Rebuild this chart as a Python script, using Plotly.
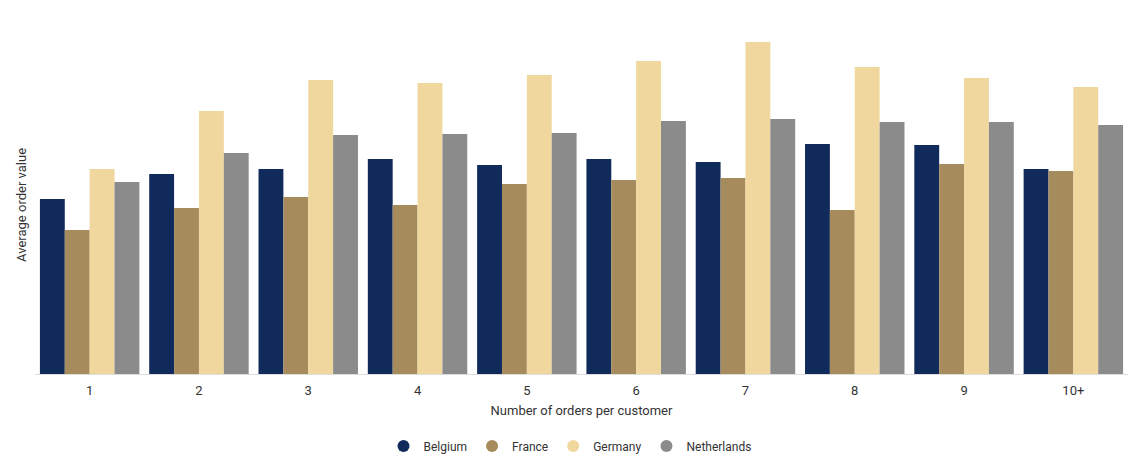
import plotly.graph_objects as go

categories = ["1", "2", "3", "4", "5", "6", "7", "8", "9", "10+"]
belgium = [175, 200, 205, 215, 209, 215, 212, 230, 229, 205]
france = [144, 166, 177, 169, 190, 194, 196, 164, 210, 203]
germany = [205, 263, 294, 291, 299, 313, 332, 307, 296, 287]
netherlands = [192, 221, 239, 240, 241, 253, 255, 252, 252, 249]

series = [
    ("Belgium", belgium, "#112a5c"),
    ("France", france, "#a68b5c"),
    ("Germany", germany, "#efd79d"),
    ("Netherlands", netherlands, "#8b8b8c"),
]

fig = go.Figure()
for name, vals, color in series:
    fig.add_trace(go.Bar(x=categories, y=vals, name=name, marker_color=color,
                         marker_line_width=0, showlegend=False))
# round legend markers
for name, vals, color in series:
    fig.add_trace(go.Scatter(x=[None], y=[None], mode="markers", name=name,
                             marker=dict(symbol="circle", size=14, color=color)))

fig.update_layout(
    width=1140, height=457,
    margin=dict(l=35, r=12, t=20, b=83),
    paper_bgcolor="white", plot_bgcolor="white",
    barmode="group", bargap=0.09, bargroupgap=0,
    font=dict(family="Roboto", size=13, color="#333333"),
    legend=dict(orientation="h", xref="container", x=0.5, xanchor="center",
                yref="container", y=0.024, yanchor="middle",
                font=dict(size=12, color="#333333"), itemsizing="constant"),
    xaxis=dict(title=dict(text="Number of orders per customer", standoff=9,
                          font=dict(size=13)),
               automargin=False,
               showline=True, linecolor="#dddddd", linewidth=1,
               ticks="outside", ticklen=4, tickcolor="rgba(0,0,0,0)",
               tickfont=dict(size=13)),
    yaxis=dict(automargin=False,
               range=[0, 354], showgrid=False, showticklabels=False, zeroline=False),
    annotations=[dict(text="Average order value", textangle=-90,
                      xref="paper", x=-0.013, xanchor="center",
                      yref="paper", y=0.477, yanchor="middle",
                      showarrow=False, font=dict(size=13, color="#333333"))],
)

fig.write_html("out.html")
